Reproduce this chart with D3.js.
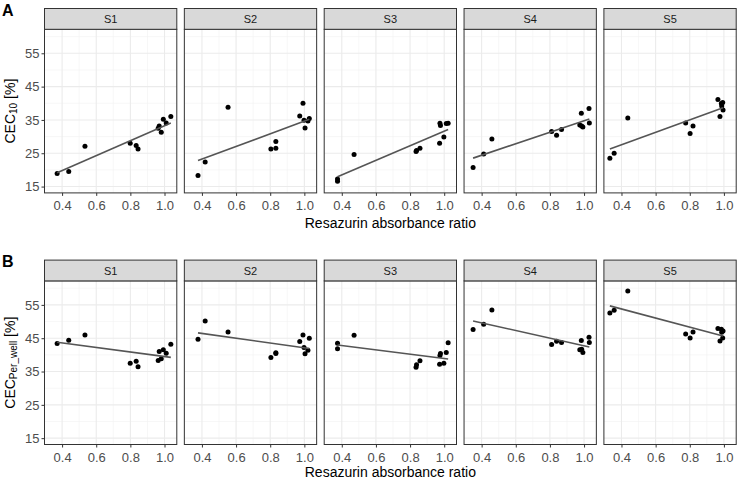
<!DOCTYPE html>
<html><head><meta charset="utf-8">
<script src="https://cdn.jsdelivr.net/npm/d3@7"></script>
<style>
body{margin:0;background:#fff}
svg{display:block;font-family:"Liberation Sans",Arial,sans-serif}
</style></head>
<body><svg id="c" width="738" height="480"></svg>
<script>
// ---------- data ----------
const sites = ["S1", "S2", "S3", "S4", "S5"];

const ratioS1 = [0.371, 0.439, 0.534, 0.799, 0.834, 0.845, 0.963, 0.969, 0.981, 0.993, 1.010, 1.037];
const ratioS2 = [0.377, 0.419, 0.553, 0.804, 0.833, 0.833, 0.973, 0.992, 0.998, 1.004, 1.021, 1.029];
const ratioS3 = [0.375, 0.375, 0.472, 0.835, 0.838, 0.858, 0.973, 0.975, 0.978, 0.998, 1.012, 1.023];
const ratioS4 = [0.350, 0.412, 0.460, 0.810, 0.839, 0.868, 0.975, 0.984, 0.986, 0.993, 1.029, 1.031];
const ratioS5 = [0.332, 0.357, 0.437, 0.776, 0.802, 0.819, 0.965, 0.977, 0.985, 0.987, 0.993, 0.995];

const cec10S1 = [18.9, 19.5, 27.1, 28.0, 27.3, 26.3, 32.5, 33.2, 31.3, 35.2, 34.1, 36.0];
const cec10S2 = [18.3, 22.4, 38.8, 26.3, 26.5, 28.5, 36.2, 40.0, 34.9, 32.6, 34.7, 35.4];
const cec10S3 = [17.3, 16.6, 24.6, 25.5, 25.8, 26.5, 28.0, 34.0, 33.3, 29.9, 33.9, 34.0];
const cec10S4 = [20.7, 24.8, 29.3, 31.5, 30.4, 32.1, 33.5, 37.0, 33.2, 32.9, 38.4, 34.1];
const cec10S5 = [23.5, 25.0, 35.6, 34.1, 30.9, 33.2, 41.1, 36.0, 39.9, 39.2, 40.2, 38.0];

const cecPerWellS1 = [43.4, 44.4, 46.0, 37.5, 38.1, 36.4, 38.3, 41.0, 38.8, 41.5, 40.5, 43.2];
const cecPerWellS2 = [44.7, 50.2, 46.9, 39.2, 40.4, 40.6, 44.0, 46.0, 42.2, 40.3, 41.4, 45.0];
const cecPerWellS3 = [43.5, 41.8, 45.9, 36.3, 37.0, 38.2, 37.2, 39.8, 40.4, 37.5, 40.7, 43.6];
const cecPerWellS4 = [47.6, 49.2, 53.5, 43.1, 44.1, 43.7, 41.5, 44.3, 41.7, 40.7, 45.3, 43.7];
const cecPerWellS5 = [52.6, 53.4, 59.2, 46.3, 45.1, 46.9, 47.9, 44.2, 47.7, 46.8, 45.1, 47.2];

const xTicks = [0.4, 0.6, 0.8, 1.0];
const xMinorTicks = [0.5, 0.7, 0.9];
const yTicks = [15, 25, 35, 45, 55];
const yMinorTicks = [20, 30, 40, 50, 60];
const xDomain = [0.297, 1.072];
const yDomain = [13.1, 62.2];
const xTitle = "Resazurin absorbance ratio";

const ratios = [ratioS1, ratioS2, ratioS3, ratioS4, ratioS5];
const rows = [
  { tag: "A", main: "CEC", sub: "10", vals: [cec10S1, cec10S2, cec10S3, cec10S4, cec10S5] },
  { tag: "B", main: "CEC", sub: "Per_well", vals: [cecPerWellS1, cecPerWellS2, cecPerWellS3, cecPerWellS4, cecPerWellS5] }
];

// ---------- layout ----------
const svg = d3.select("#c");
const plotTops = [29.3, 280.9];
const titleBase = [228.3, 476.5];
const plotH = 163.6, stripH = 20.8;
const left0 = 44.5, panelW = 132.3, step = 139.85;

const x = d3.scaleLinear().domain(xDomain).range([0, panelW]);
const y = d3.scaleLinear().domain(yDomain).range([plotH, 0]);

function lm(xs, ys) {
  const mx = d3.mean(xs), my = d3.mean(ys);
  let num = 0, den = 0;
  xs.forEach((v, i) => { num += (v - mx) * (ys[i] - my); den += (v - mx) * (v - mx); });
  const b = num / den, a = my - b * mx;
  return d => a + b * d;
}

rows.forEach((row, r) => {
  const top = plotTops[r];
  sites.forEach((site, i) => {
    const xs = ratios[i], ys = row.vals[i];
    const g = svg.append("g").attr("transform", `translate(${left0 + i * step},${top})`);
    g.append("rect").attr("width", panelW).attr("height", plotH).attr("fill", "#fff");
    // minor grid
    g.selectAll(".mx").data(xMinorTicks).enter().append("line")
      .attr("x1", d => x(d)).attr("x2", d => x(d)).attr("y1", 0).attr("y2", plotH)
      .attr("stroke", "#F2F2F2").attr("stroke-width", 0.6);
    g.selectAll(".my").data(yMinorTicks).enter().append("line")
      .attr("y1", d => y(d)).attr("y2", d => y(d)).attr("x1", 0).attr("x2", panelW)
      .attr("stroke", "#F2F2F2").attr("stroke-width", 0.6);
    // major grid
    g.selectAll(".Mx").data(xTicks).enter().append("line")
      .attr("x1", d => x(d)).attr("x2", d => x(d)).attr("y1", 0).attr("y2", plotH)
      .attr("stroke", "#EBEBEB").attr("stroke-width", 1.1);
    g.selectAll(".My").data(yTicks).enter().append("line")
      .attr("y1", d => y(d)).attr("y2", d => y(d)).attr("x1", 0).attr("x2", panelW)
      .attr("stroke", "#EBEBEB").attr("stroke-width", 1.1);
    // points
    g.selectAll(".pt").data(xs.map((v, k) => [v, ys[k]])).enter().append("circle")
      .attr("cx", d => x(d[0])).attr("cy", d => y(d[1])).attr("r", 2.5).attr("fill", "#000");
    // fit line
    const f = lm(xs, ys);
    const ext = d3.extent(xs);
    g.append("line").attr("x1", x(ext[0])).attr("x2", x(ext[1]))
      .attr("y1", y(f(ext[0]))).attr("y2", y(f(ext[1])))
      .attr("stroke", "#555").attr("stroke-width", 1.6);
    // border
    g.append("rect").attr("width", panelW).attr("height", plotH)
      .attr("fill", "none").attr("stroke", "#333").attr("stroke-width", 1);
    // strip
    g.append("rect").attr("y", -stripH).attr("width", panelW).attr("height", stripH)
      .attr("fill", "#D9D9D9").attr("stroke", "#333").attr("stroke-width", 1);
    g.append("text").attr("x", panelW / 2).attr("y", -stripH / 2 + 4)
      .attr("text-anchor", "middle").attr("font-size", 11).attr("fill", "#1A1A1A").text(site);
    // x axis
    const xa = g.append("g").attr("transform", `translate(0,${plotH})`)
      .call(d3.axisBottom(x).tickValues(xTicks).tickFormat(d3.format(".1f")).tickSize(3).tickPadding(5));
    xa.select(".domain").remove();
    xa.selectAll("line").attr("stroke", "#333");
    xa.selectAll("text").attr("fill", "#4D4D4D").attr("font-size", 13);
    xa.attr("font-family", null);
    if (i === 0) {
      const ya = g.append("g")
        .call(d3.axisLeft(y).tickValues(yTicks).tickSize(3).tickPadding(2));
      ya.select(".domain").remove();
      ya.selectAll("line").attr("stroke", "#333");
      ya.selectAll("text").attr("fill", "#4D4D4D").attr("font-size", 13);
      ya.attr("font-family", null);
    }
  });
  // panel tag
  svg.append("text").attr("x", 2).attr("y", top - 13.5).attr("font-size", 16)
    .attr("font-weight", "bold").attr("fill", "#000").text(row.tag);
  // x title
  const midX = left0 + (4 * step + panelW) / 2;
  svg.append("text").attr("x", midX).attr("y", titleBase[r])
    .attr("text-anchor", "middle").attr("font-size", 14).attr("fill", "#000").text(xTitle);
  // y title
  const yt = svg.append("text")
    .attr("transform", `translate(15.3,${top + plotH / 2}) rotate(-90)`)
    .attr("text-anchor", "middle").attr("font-size", 14).attr("fill", "#000");
  yt.append("tspan").text(row.main);
  yt.append("tspan").attr("font-size", 10).attr("dy", 2).text(row.sub);
  yt.append("tspan").attr("dy", -2).text(" [%]");
});
</script></body></html>
